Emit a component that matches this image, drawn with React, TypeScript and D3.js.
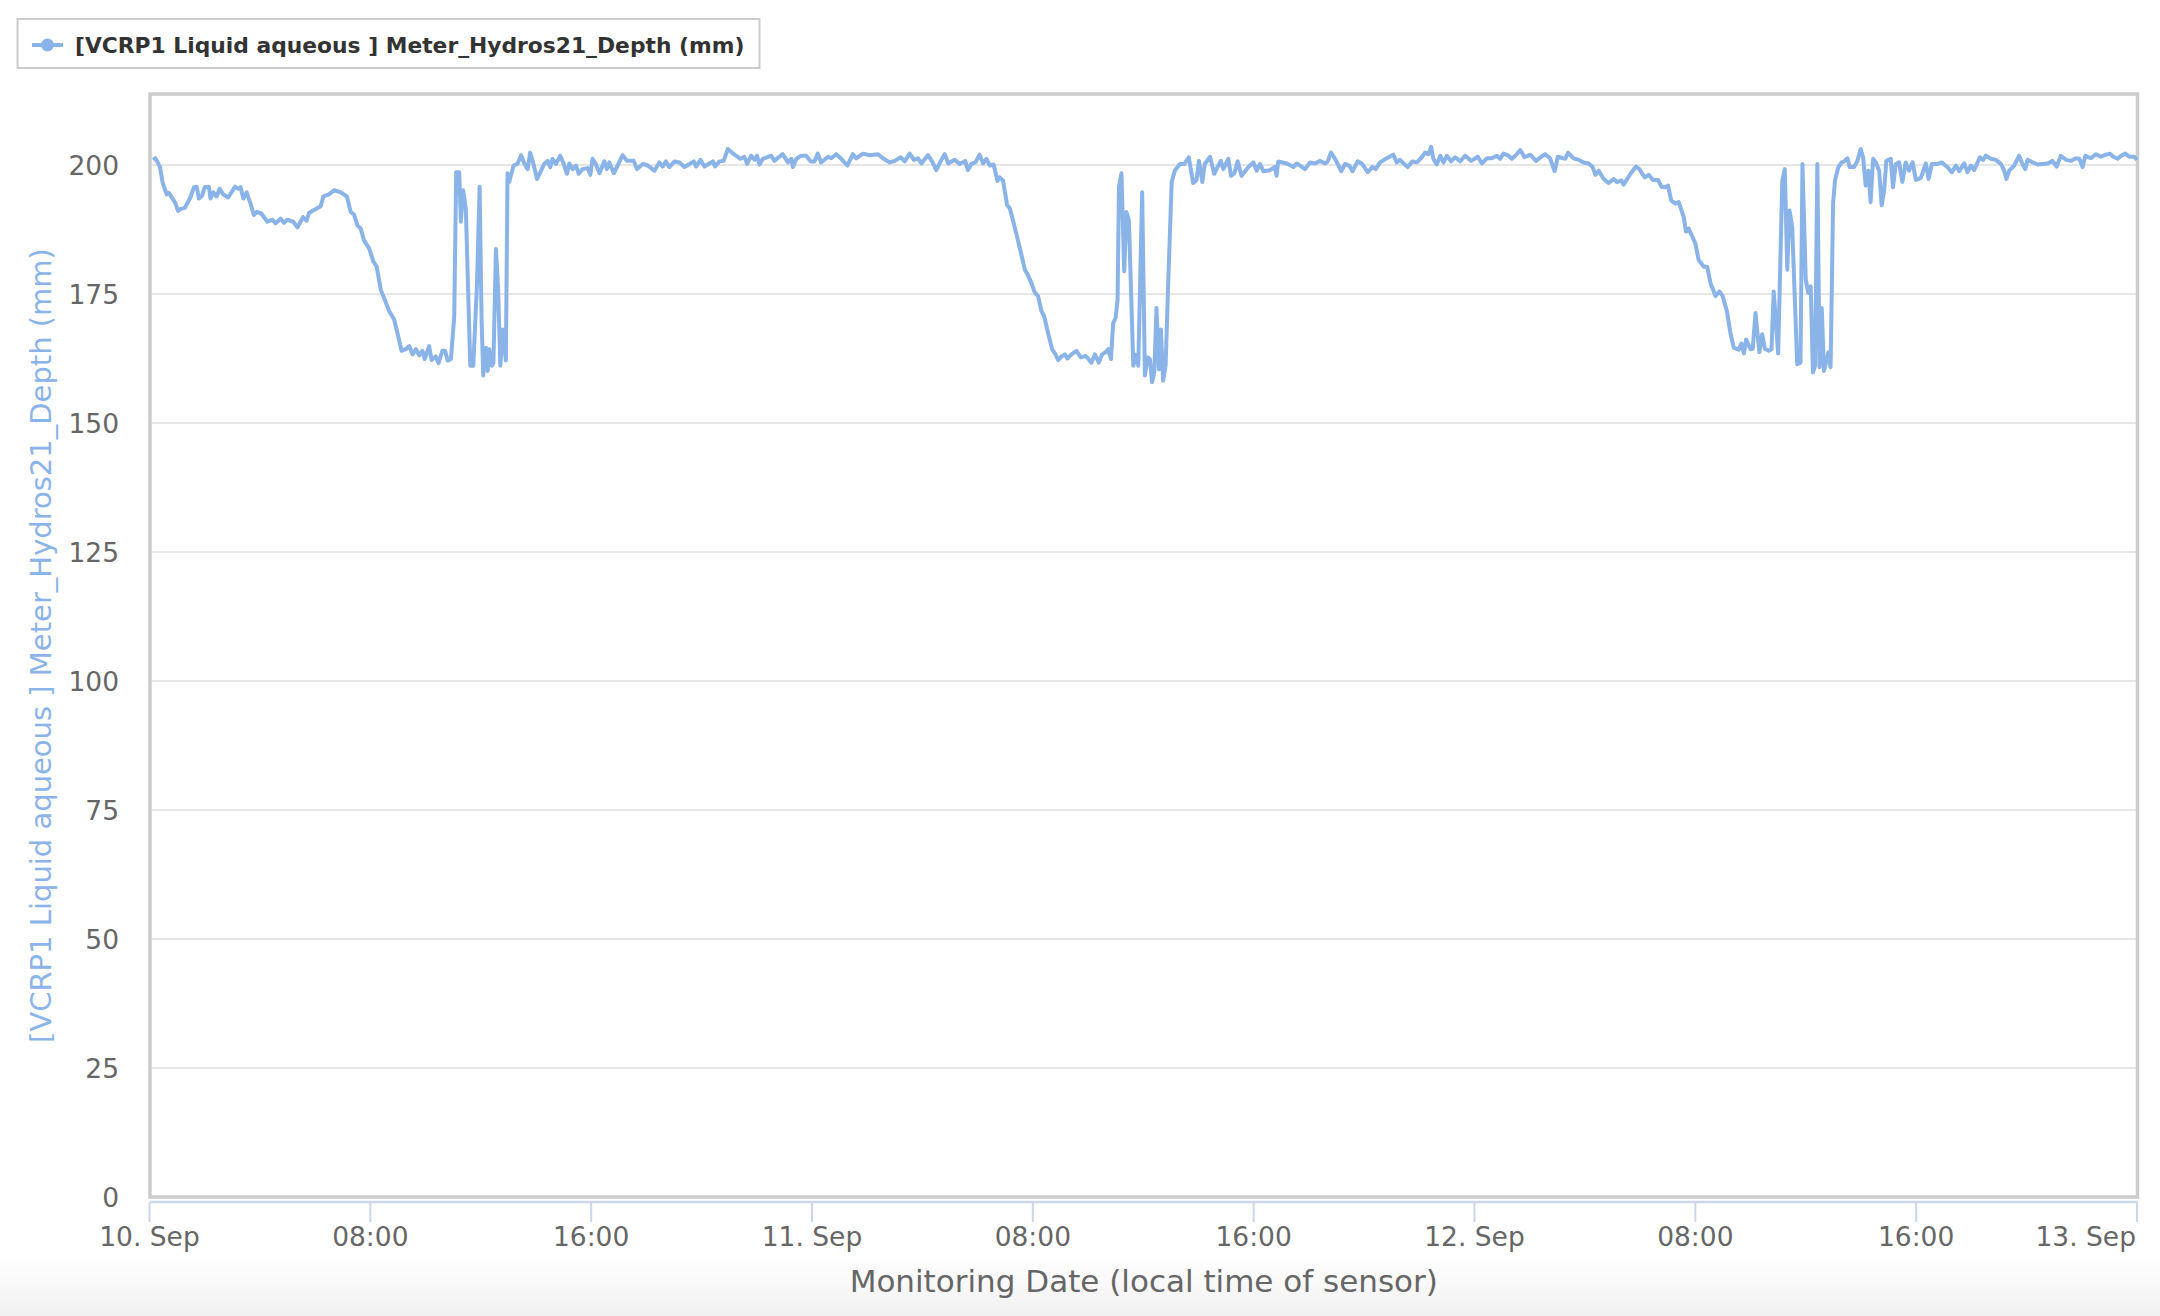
import React from "react";
import * as d3 from "d3";

// readings as [hour of day, depth mm], one array per day
const sep10: [number, number][] = [
  [0.13, 201.0], [0.22, 201.3], [0.38, 199.6], [0.47, 196.7], [0.62, 194.3], [0.7, 194.6], [0.94, 192.6], [1.03, 191.1],
  [1.13, 191.5], [1.28, 191.7], [1.49, 193.8], [1.61, 195.7], [1.71, 195.8], [1.79, 193.5], [1.91, 194.1], [2.0, 195.7],
  [2.15, 195.8], [2.21, 193.5], [2.31, 194.7], [2.43, 193.9], [2.54, 195.4], [2.67, 194.3], [2.85, 193.7], [3.1, 195.8],
  [3.2, 195.4], [3.3, 195.7], [3.4, 193.5], [3.52, 194.7], [3.66, 192.5], [3.78, 190.3], [3.88, 190.9], [4.05, 190.6],
  [4.27, 189.0], [4.45, 189.4], [4.57, 188.7], [4.75, 189.6], [4.87, 188.8], [4.99, 189.4], [5.21, 189.0], [5.36, 187.9],
  [5.56, 189.9], [5.69, 189.2], [5.78, 190.7], [5.96, 191.3], [6.2, 192.0], [6.3, 193.9], [6.5, 194.3], [6.69, 195.1],
  [6.93, 194.7], [7.15, 193.9], [7.29, 190.9], [7.41, 190.4], [7.53, 188.3], [7.65, 187.7], [7.77, 185.4], [7.96, 183.8],
  [8.11, 181.3], [8.23, 180.3], [8.38, 175.8], [8.5, 174.2], [8.68, 171.7], [8.86, 170.1], [8.98, 167.5], [9.13, 164.0],
  [9.28, 164.3], [9.41, 164.9], [9.53, 163.3], [9.65, 164.3], [9.77, 163.1], [9.89, 164.0], [9.97, 162.4], [10.13, 164.9],
  [10.22, 162.2], [10.37, 162.9], [10.47, 161.6], [10.61, 164.0], [10.71, 164.0], [10.8, 162.1], [10.92, 162.4], [11.04, 170.7],
  [11.11, 198.6], [11.22, 198.6], [11.28, 189.0], [11.36, 195.1], [11.46, 191.5], [11.62, 161.1], [11.73, 161.1], [11.86, 176.5],
  [11.96, 195.8], [12.03, 170.1], [12.09, 159.2], [12.19, 164.6], [12.25, 160.1], [12.31, 164.3], [12.4, 161.1], [12.46, 161.7],
  [12.55, 183.7], [12.63, 175.8], [12.71, 161.1], [12.79, 168.1], [12.91, 162.1], [12.97, 198.4], [13.03, 196.7], [13.19, 199.9],
  [13.33, 200.2], [13.46, 201.9], [13.58, 200.3], [13.7, 199.2], [13.79, 202.4], [13.91, 200.2], [14.04, 197.3], [14.16, 198.6],
  [14.3, 200.2], [14.42, 200.8], [14.52, 199.6], [14.6, 201.2], [14.72, 200.2], [14.88, 201.8], [15.0, 200.3], [15.12, 198.3],
  [15.21, 200.3], [15.33, 199.2], [15.45, 199.9], [15.55, 198.3], [15.69, 199.2], [15.87, 199.4], [15.97, 198.1], [16.05, 201.2],
  [16.17, 200.2], [16.3, 198.4], [16.48, 200.7], [16.57, 199.2], [16.66, 200.5], [16.82, 198.4], [16.96, 199.9], [17.14, 201.9],
  [17.3, 200.8], [17.54, 200.8], [17.66, 199.2], [17.87, 200.2], [18.05, 199.9], [18.29, 198.9], [18.47, 200.5], [18.59, 199.7],
  [18.71, 200.7], [18.83, 199.6], [19.02, 200.7], [19.2, 200.5], [19.38, 199.6], [19.56, 200.2], [19.72, 200.7], [19.8, 199.7],
  [19.96, 201.0], [20.1, 199.7], [20.28, 200.3], [20.41, 200.7], [20.49, 199.7], [20.65, 200.7], [20.8, 200.8], [20.95, 203.1],
  [21.17, 202.1], [21.41, 201.2], [21.55, 201.6], [21.65, 200.2], [21.8, 201.8], [21.92, 201.0], [22.01, 201.8], [22.1, 200.1],
  [22.22, 201.2], [22.52, 201.8], [22.64, 200.8], [22.79, 201.5], [22.94, 202.1], [23.13, 200.5], [23.25, 201.2], [23.31, 199.6],
  [23.43, 201.2], [23.61, 201.8], [23.79, 201.8], [23.95, 200.7],
];

const sep11: [number, number][] = [
  [0.09, 200.7], [0.21, 202.2], [0.33, 200.5], [0.58, 201.6], [0.7, 201.3], [0.88, 202.1], [1.06, 201.2], [1.28, 199.9],
  [1.48, 202.1], [1.6, 201.3], [1.85, 202.2], [2.09, 201.9], [2.39, 202.1], [2.57, 201.3], [2.81, 200.5], [3.0, 200.8],
  [3.21, 201.5], [3.36, 200.7], [3.54, 202.2], [3.69, 201.0], [3.84, 201.3], [3.96, 200.3], [4.2, 201.9], [4.35, 200.7],
  [4.5, 199.0], [4.69, 201.0], [4.81, 202.1], [4.93, 200.3], [5.17, 201.0], [5.35, 200.2], [5.55, 200.8], [5.65, 199.0],
  [5.77, 200.2], [5.92, 200.5], [6.07, 202.0], [6.2, 200.3], [6.32, 201.2], [6.44, 199.9], [6.58, 200.1], [6.72, 196.9],
  [6.8, 197.6], [6.92, 197.0], [7.07, 192.2], [7.16, 191.7], [7.28, 189.3], [7.4, 186.7], [7.56, 183.2], [7.71, 179.7],
  [7.8, 178.9], [7.95, 177.1], [8.07, 175.3], [8.19, 174.6], [8.31, 171.7], [8.41, 170.7], [8.55, 167.5], [8.7, 164.3],
  [8.82, 163.3], [8.92, 162.2], [9.04, 162.9], [9.16, 163.3], [9.25, 162.5], [9.4, 163.3], [9.58, 164.0], [9.74, 162.7],
  [9.91, 163.0], [10.0, 162.5], [10.12, 161.7], [10.25, 163.3], [10.39, 161.7], [10.51, 163.3], [10.63, 163.7], [10.73, 164.3],
  [10.83, 162.4], [10.91, 169.3], [11.0, 170.4], [11.07, 173.9], [11.12, 195.7], [11.21, 198.4], [11.31, 179.4], [11.39, 190.9],
  [11.48, 189.3], [11.64, 161.1], [11.7, 163.3], [11.82, 161.1], [11.96, 194.7], [12.06, 159.2], [12.16, 162.7], [12.24, 162.4],
  [12.32, 157.9], [12.4, 159.8], [12.48, 172.3], [12.57, 160.4], [12.64, 168.1], [12.72, 158.2], [12.81, 161.1], [12.9, 176.5],
  [13.03, 196.7], [13.15, 199.0], [13.33, 200.2], [13.49, 200.2], [13.65, 201.5], [13.81, 196.5], [13.93, 197.1], [14.02, 200.8],
  [14.14, 196.7], [14.23, 200.2], [14.42, 201.6], [14.57, 198.3], [14.69, 199.6], [14.81, 200.8], [14.9, 199.2], [15.08, 201.2],
  [15.18, 197.9], [15.3, 198.4], [15.42, 200.7], [15.56, 197.9], [15.81, 199.6], [15.99, 200.5], [16.11, 198.9], [16.23, 200.2],
  [16.35, 198.8], [16.59, 199.0], [16.77, 199.6], [16.83, 197.9], [16.89, 200.7], [17.2, 200.3], [17.44, 199.6], [17.56, 200.3],
  [17.86, 199.2], [18.04, 200.5], [18.22, 200.3], [18.4, 200.8], [18.59, 200.3], [18.68, 200.7], [18.8, 202.4], [18.95, 201.2],
  [19.17, 198.8], [19.31, 200.2], [19.46, 199.9], [19.58, 198.8], [19.77, 200.7], [19.92, 200.3], [20.13, 198.6], [20.3, 199.6],
  [20.42, 199.2], [20.58, 200.5], [20.82, 201.3], [21.06, 202.0], [21.18, 200.5], [21.3, 201.0], [21.43, 200.3], [21.58, 199.6],
  [21.75, 200.7], [21.91, 200.5], [22.09, 201.5], [22.21, 202.4], [22.33, 202.1], [22.43, 203.5], [22.51, 201.2], [22.63, 200.1],
  [22.76, 201.8], [22.88, 200.5], [23.0, 201.8], [23.15, 200.7], [23.3, 201.5], [23.48, 200.7], [23.66, 201.8], [23.88, 200.8],
];

const sep12: [number, number][] = [
  [0.12, 201.6], [0.27, 200.3], [0.45, 201.3], [0.63, 201.3], [0.81, 201.8], [0.93, 201.2], [1.05, 202.2], [1.23, 201.8],
  [1.35, 201.2], [1.48, 201.8], [1.66, 202.9], [1.81, 201.5], [2.02, 202.0], [2.23, 200.8], [2.42, 201.6], [2.56, 202.1],
  [2.74, 201.3], [2.9, 198.8], [3.02, 201.6], [3.29, 201.2], [3.39, 202.4], [3.59, 201.3], [3.77, 201.0], [3.95, 200.5],
  [4.13, 200.3], [4.28, 199.6], [4.38, 198.1], [4.5, 198.9], [4.68, 197.3], [4.86, 196.5], [5.04, 197.3], [5.16, 196.7],
  [5.32, 197.0], [5.4, 196.2], [5.65, 198.3], [5.85, 199.7], [5.97, 199.2], [6.17, 197.6], [6.31, 198.1], [6.46, 197.1],
  [6.65, 197.1], [6.77, 195.8], [6.91, 195.7], [7.01, 196.0], [7.13, 193.1], [7.28, 192.5], [7.4, 192.8], [7.58, 189.9],
  [7.66, 187.1], [7.76, 187.7], [8.0, 184.8], [8.12, 181.6], [8.31, 180.3], [8.43, 180.3], [8.55, 177.1], [8.73, 174.6],
  [8.87, 175.5], [8.99, 174.6], [9.15, 171.5], [9.27, 167.5], [9.39, 164.6], [9.57, 164.2], [9.67, 165.4], [9.76, 163.5],
  [9.84, 166.2], [10.0, 164.3], [10.08, 164.4], [10.18, 171.3], [10.32, 163.7], [10.42, 167.2], [10.52, 164.4], [10.66, 164.0],
  [10.76, 164.3], [10.84, 175.5], [11.0, 163.5], [11.15, 197.0], [11.24, 199.2], [11.33, 179.7], [11.41, 191.2], [11.51, 188.0],
  [11.69, 161.4], [11.81, 161.7], [11.88, 200.2], [12.0, 177.8], [12.09, 175.2], [12.18, 176.5], [12.26, 159.8], [12.34, 161.1],
  [12.42, 200.2], [12.5, 160.8], [12.58, 172.3], [12.66, 160.1], [12.75, 162.1], [12.82, 163.7], [12.9, 160.8], [12.99, 192.5],
  [13.06, 197.0], [13.18, 199.6], [13.3, 200.5], [13.39, 200.7], [13.51, 201.3], [13.59, 199.6], [13.75, 199.6], [13.87, 200.8],
  [13.99, 203.1], [14.08, 201.5], [14.17, 196.0], [14.27, 198.9], [14.35, 192.8], [14.44, 201.2], [14.54, 200.5], [14.66, 198.9],
  [14.75, 192.2], [14.84, 195.1], [14.92, 200.8], [15.08, 201.2], [15.16, 195.7], [15.26, 200.2], [15.38, 200.5], [15.5, 196.7],
  [15.62, 200.5], [15.74, 198.9], [15.87, 200.5], [15.99, 197.1], [16.17, 197.5], [16.35, 200.3], [16.45, 197.3], [16.57, 200.2],
  [16.77, 200.2], [16.93, 200.5], [17.13, 199.6], [17.29, 198.6], [17.44, 199.9], [17.56, 198.8], [17.74, 200.3], [17.86, 198.6],
  [17.98, 199.9], [18.1, 199.0], [18.31, 201.5], [18.43, 201.0], [18.52, 201.8], [18.71, 201.2], [18.89, 201.0], [19.07, 200.2],
  [19.19, 198.9], [19.27, 197.3], [19.37, 198.9], [19.55, 199.9], [19.73, 201.8], [19.85, 200.2], [19.95, 199.2], [20.04, 201.0],
  [20.22, 200.5], [20.4, 200.1], [20.58, 200.2], [20.76, 200.3], [20.94, 200.8], [21.09, 199.7], [21.24, 201.8], [21.43, 201.0],
  [21.61, 200.8], [21.79, 201.3], [21.91, 201.2], [22.03, 199.6], [22.13, 201.8], [22.33, 201.3], [22.51, 202.1], [22.69, 201.6],
  [22.88, 202.0], [23.02, 202.2], [23.14, 201.6], [23.3, 201.2], [23.42, 201.8], [23.58, 202.2], [23.72, 201.6], [23.9, 201.6],
  [24.0, 201.0],
];

const days = [sep10, sep11, sep12];
const yTicks = [0, 25, 50, 75, 100, 125, 150, 175, 200];
const seriesName = "[VCRP1 Liquid aqueous ] Meter_Hydros21_Depth (mm)";
const xTitle = "Monitoring Date (local time of sensor)";

const W = 2160;
const H = 1316;
const plot = { left: 150, right: 2137.5, top: 94, bottom: 1197 };
const blue = "#8ab3e8";
const font = "'DejaVu Sans', sans-serif";

const start = new Date(2019, 8, 10);
const end = new Date(2019, 8, 13);

export default function App() {
  const x = d3.scaleTime().domain([start, end]).range([149.5, 2137]);
  const y = d3.scaleLinear().domain([0, 200]).range([1197, 165]);

  const points = days.flatMap((day, i) =>
    day.map(([h, v]) => ({ t: new Date(start.getTime() + (i * 24 + h) * 3600000), v }))
  );
  const line = d3
    .line<{ t: Date; v: number }>()
    .x((d) => x(d.t))
    .y((d) => y(d.v));

  const xTicks = x.ticks(d3.timeHour.every(8)!);
  const fmt = (d: Date) =>
    d.getHours() === 0 ? d3.timeFormat("%-d. %b")(d) : d3.timeFormat("%H:%M")(d);
  const last = xTicks[xTicks.length - 1];

  return (
    <svg width={W} height={H} style={{ position: "absolute", left: 0, top: 0 }} fontFamily={font}>
      <defs>
        <linearGradient id="bg" x1="0" y1="0" x2="0" y2="1">
          <stop offset="0" stopColor="#ffffff" />
          <stop offset="1" stopColor="#f1f1f1" />
        </linearGradient>
      </defs>
      <rect width={W} height={H} fill="#fff" />
      <rect x={0} y={1255} width={W} height={H - 1255} fill="url(#bg)" />

      {/* legend */}
      <rect x={17.5} y={19} width={742} height={49} fill="#fff" stroke="#cccccc" strokeWidth={2} />
      <line x1={32} x2={63} y1={45} y2={45} stroke={blue} strokeWidth={4} />
      <circle cx={47.5} cy={45} r={6.5} fill={blue} />
      <text x={75} y={53} fontSize={21.8} fontWeight="bold" fill="#333">
        {seriesName}
      </text>

      {/* grid */}
      {yTicks.map((t) => (
        <line key={t} x1={plot.left} x2={plot.right} y1={y(t)} y2={y(t)} stroke="#e6e6e6" strokeWidth={2} />
      ))}
      <rect
        x={plot.left}
        y={plot.top}
        width={plot.right - plot.left}
        height={plot.bottom - plot.top}
        fill="none"
        stroke="#cccccc"
        strokeWidth={3.5}
      />

      {/* x axis */}
      <line x1={plot.left} x2={plot.right} y1={1202} y2={1202} stroke="#ccd6eb" strokeWidth={2.5} />
      {xTicks.map((t) => (
        <g key={t.getTime()}>
          <line x1={x(t)} x2={x(t)} y1={1202} y2={1222} stroke="#ccd6eb" strokeWidth={2} />
          <text
            x={t === last ? x(t) - 1 : x(t)}
            y={1246}
            textAnchor={t === last ? "end" : "middle"}
            fontSize={26.5}
            fill="#666"
          >
            {fmt(t)}
          </text>
        </g>
      ))}
      <text x={(plot.left + plot.right) / 2} y={1292} textAnchor="middle" fontSize={31} fill="#666">
        {xTitle}
      </text>

      {/* y axis */}
      {yTicks.map((t) => (
        <text key={t} x={119} y={y(t) + 10} textAnchor="end" fontSize={26.5} fill="#666">
          {t}
        </text>
      ))}
      <text
        transform={`translate(51,${(plot.top + plot.bottom) / 2}) rotate(-90)`}
        textAnchor="middle"
        fontSize={29}
        fill={blue}
      >
        {seriesName}
      </text>

      {/* series */}
      <path d={line(points) ?? ""} fill="none" stroke={blue} strokeWidth={4} strokeLinejoin="round" />
    </svg>
  );
}
